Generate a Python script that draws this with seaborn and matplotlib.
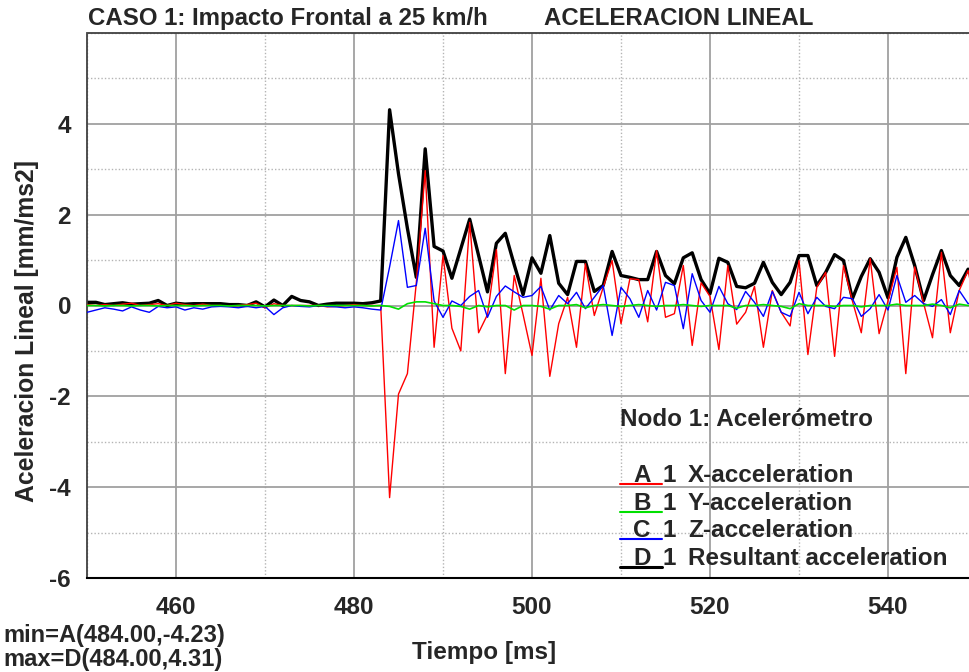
import numpy as np
import pandas as pd
import matplotlib
matplotlib.use("Agg")
import matplotlib.pyplot as plt
import seaborn as sns
from matplotlib.ticker import MultipleLocator
from matplotlib.lines import Line2D

# ---------------- data ----------------
time_ms = list(range(450, 551))

x_acc = [0.02, 0.0, 0.02, 0.0, 0.03, 0.05, 0.0, 0.02, 0.04, 0.0,
         0.05, 0.02, 0.0, 0.03, 0.0, 0.0, -0.02, 0.0, 0.02, 0.05,
         -0.05, 0.04, 0.0, 0.0, 0.0, 0.0, 0.0, -0.03, -0.02, 0.0,
         0.02, 0.0, 0.0, 0.0, -4.23, -1.95, -1.5, 0.5, 2.97, -0.92,
         1.1, -0.5, -1.0, 1.83, -0.6, -0.2, 1.23, -1.5, 0.66, -0.2,
         -1.1, 0.6, -1.56, -0.4, 0.18, -0.92, 0.92, -0.22, 0.40, 0.99,
         -0.4, 0.59, 0.57, -0.36, 1.21, -0.26, -0.18, 0.88, -0.88, 0.5,
         0.2, -0.97, 0.88, -0.41, -0.15, 0.42, -0.92, 0.33, -0.15, -0.45,
         0.99, -1.08, 0.4, 0.73, -1.12, 0.88, 0.1, -0.6, 1.03, -0.62,
         0.1, 0.84, -1.5, 0.85, 0.05, -0.71, 1.17, -0.6, 0.33, 0.77,
         -0.2]

y_acc = [0.0, 0.0, -0.01, 0.0, 0.0, -0.01, 0.0, 0.0, -0.01, 0.0,
         0.0, 0.0, -0.01, 0.0, 0.0, 0.0, -0.01, 0.0, 0.0, 0.0,
         -0.01, 0.0, 0.0, 0.0, 0.0, -0.01, 0.0, 0.0, 0.0, 0.0,
         0.0, 0.0, -0.01, 0.0, -0.02, -0.08, 0.04, 0.08, 0.08, 0.04,
         0.0, 0.0, -0.02, -0.08, 0.0, -0.03, 0.0, 0.0, -0.1, 0.0,
         0.0, -0.02, -0.08, 0.0, 0.0, 0.02, -0.05, 0.0, 0.02, 0.0,
         -0.02, 0.0, 0.02, 0.0, -0.02, 0.0, 0.0, 0.02, 0.0, -0.02,
         0.0, 0.0, 0.0, -0.06, 0.0, 0.0, 0.02, 0.0, -0.02, -0.07,
         0.04, 0.0, 0.0, 0.0, -0.02, 0.0, 0.0, -0.03, 0.0, 0.0,
         0.0, 0.03, 0.0, 0.0, 0.0, 0.03, 0.0, -0.05, 0.03, 0.0,
         0.0]

z_acc = [-0.15, -0.1, -0.05, -0.08, -0.12, -0.03, -0.1, -0.15, -0.02, -0.05,
         -0.03, -0.1, -0.05, -0.08, -0.03, -0.02, -0.03, -0.05, -0.02, -0.05,
         -0.02, -0.2, -0.05, 0.0, -0.02, -0.03, 0.0, -0.02, -0.03, -0.05,
         -0.03, -0.05, -0.08, -0.1, 0.85, 1.87, 0.4, 0.44, 1.7, 0.1,
         -0.26, 0.1, 0.0, 0.2, 0.33, -0.26, 0.2, 0.43, 0.3, 0.18,
         0.22, 0.42, -0.1, 0.22, 0.04, 0.29, -0.07, 0.18, 0.44, -0.66,
         0.40, 0.15, -0.26, 0.33, -0.1, 0.51, 0.44, -0.51, 0.70, 0.11,
         -0.15, 0.42, 0.04, -0.09, 0.31, 0.07, -0.24, 0.31, -0.15, -0.24,
         0.29, -0.18, 0.18, -0.02, -0.07, 0.18, 0.15, -0.24, -0.07, 0.24,
         -0.1, 0.66, 0.07, 0.22, 0.04, -0.02, 0.13, -0.2, 0.33, 0.04,
         0.1]

res_acc = [0.07, 0.07, 0.02, 0.04, 0.06, 0.03, 0.04, 0.05, 0.11, 0.0,
           0.05, 0.03, 0.04, 0.04, 0.04, 0.04, 0.02, 0.02, 0.0, 0.08,
           -0.03, 0.12, 0.0, 0.2, 0.11, 0.08, 0.0, 0.03, 0.05, 0.05,
           0.05, 0.04, 0.06, 0.1, 4.31, 2.9, 1.7, 0.62, 3.45, 1.3,
           1.2, 0.6, 1.25, 1.9, 1.1, 0.3, 1.37, 1.59, 0.9, 0.24,
           1.05, 0.71, 1.54, 0.49, 0.24, 0.97, 0.97, 0.31, 0.44, 1.19,
           0.66, 0.62, 0.57, 0.57, 1.19, 0.66, 0.48, 1.05, 1.16, 0.57,
           0.26, 1.04, 0.95, 0.42, 0.39, 0.49, 0.95, 0.51, 0.24, 0.51,
           1.1, 1.1, 0.44, 0.73, 1.12, 0.99, 0.15, 0.64, 1.03, 0.73,
           0.17, 1.06, 1.5, 0.88, 0.11, 0.68, 1.21, 0.66, 0.44, 0.80,
           0.5]

series_names = ["X-acceleration", "Y-acceleration", "Z-acceleration", "Resultant acceleration"]
series_letters = ["A", "B", "C", "D"]
series_colors = ["#ff0000", "#00e000", "#0000ff", "#000000"]
x_ticks = [460, 480, 500, 520, 540]
y_ticks = [-6, -4, -2, 0, 2, 4]

title_left = "CASO 1: Impacto Frontal a 25 km/h"
title_right = "ACELERACION LINEAL"
x_label = "Tiempo [ms]"
y_label = "Aceleracion Lineal [mm/ms2]"
legend_title = "Nodo 1: Acelerómetro"
min_text = "min=A(484.00,-4.23)"
max_text = "max=D(484.00,4.31)"

# ---------------- styling ----------------
sns.set_theme(style="white")
plt.rcParams["font.family"] = ["Liberation Sans", "DejaVu Sans"]
plt.rcParams["font.weight"] = "bold"
plt.rcParams["axes.unicode_minus"] = False

W, H = 969, 672
fig = plt.figure(figsize=(W / 100, H / 100), dpi=100)
fig.patch.set_facecolor("white")

def px(x, y):
    return x / W, 1 - y / H

ax = fig.add_axes([87 / W, 94 / H, 890 / W, 545 / H])
ax.set_facecolor("white")

frames = {
    "A": pd.DataFrame({"t": time_ms, "v": x_acc}),
    "B": pd.DataFrame({"t": time_ms, "v": y_acc}),
    "C": pd.DataFrame({"t": time_ms, "v": z_acc}),
    "D": pd.DataFrame({"t": time_ms, "v": res_acc}),
}
draw_order = [("D", 3, 2.4, 2), ("A", 0, 1.0, 3), ("C", 2, 1.0, 4), ("B", 1, 1.2, 5)]
for key, idx, lw, z in draw_order:
    sns.lineplot(data=frames[key], x="t", y="v", ax=ax, color=series_colors[idx],
                 linewidth=lw, zorder=z, legend=False, estimator=None)

ax.set_xlim(450, 550)
ax.set_ylim(-6, 6)
ax.xaxis.set_major_locator(MultipleLocator(20))
ax.xaxis.set_minor_locator(MultipleLocator(10))
ax.yaxis.set_major_locator(MultipleLocator(2))
ax.yaxis.set_minor_locator(MultipleLocator(1))
ax.set_xticks(x_ticks)
ax.set_yticks(y_ticks)
ax.set_xlabel("")
ax.set_ylabel("")

ax.grid(which="major", color="#a0a0a0", linewidth=1.3, linestyle="-", zorder=0)
ax.grid(which="minor", color="#b4b4b4", linewidth=1.0, linestyle=(0, (1, 1.5)), zorder=0)
ax.set_axisbelow(True)

ax.spines["right"].set_visible(False)
ax.spines["bottom"].set_color("#000000")
ax.spines["bottom"].set_linewidth(1.5)
ax.spines["top"].set_color("#404040")
ax.spines["top"].set_linewidth(1.3)
ax.spines["left"].set_color("#404040")
ax.spines["left"].set_linewidth(1.3)
ax.spines["left"].set_linestyle((0, (1, 1)))

FS = 17.5
ax.tick_params(which="major", direction="inout", length=13, width=1.3, color="#303030",
               labelsize=FS, pad=5)
ax.tick_params(axis="x", which="major", pad=6.5)
ax.tick_params(which="minor", direction="in", length=6.5, width=1.0, color="#303030")
for lab in ax.get_xticklabels() + ax.get_yticklabels():
    lab.set_fontweight("bold")

fig.text(*px(88, 25), title_left, fontsize=17.3, fontweight="bold", ha="left", va="baseline")
fig.text(*px(544, 25), title_right, fontsize=17.3, fontweight="bold", ha="left", va="baseline")
fig.text(*px(27, 331), y_label, fontsize=17.8, fontweight="bold", rotation=90,
         ha="center", va="center")
fig.text(*px(484, 659), x_label, fontsize=FS, fontweight="bold", ha="center", va="baseline")
fig.text(*px(3, 642), min_text, fontsize=17, fontweight="bold", ha="left", va="baseline")
fig.text(*px(3, 666), max_text, fontsize=17, fontweight="bold", ha="left", va="baseline")

# legend block
fig.text(*px(620, 426), legend_title, fontsize=FS, fontweight="bold", ha="left", va="baseline")
baselines = [482, 510, 537, 565]
for i, b in enumerate(baselines):
    fig.text(*px(633, b), series_letters[i], fontsize=FS, fontweight="bold", ha="left", va="baseline")
    fig.text(*px(663, b), "1", fontsize=FS, fontweight="bold", ha="left", va="baseline")
    fig.text(*px(688, b), series_names[i], fontsize=FS, fontweight="bold", ha="left", va="baseline")
    x0, y0 = px(620, b + 1.5)
    x1, _ = px(662, b + 1.5)
    fig.add_artist(Line2D([x0, x1], [y0, y0], transform=fig.transFigure,
                          color=series_colors[i], linewidth=1.5 if i < 3 else 2.2))

fig.savefig("out.png", dpi=100, facecolor="white")
